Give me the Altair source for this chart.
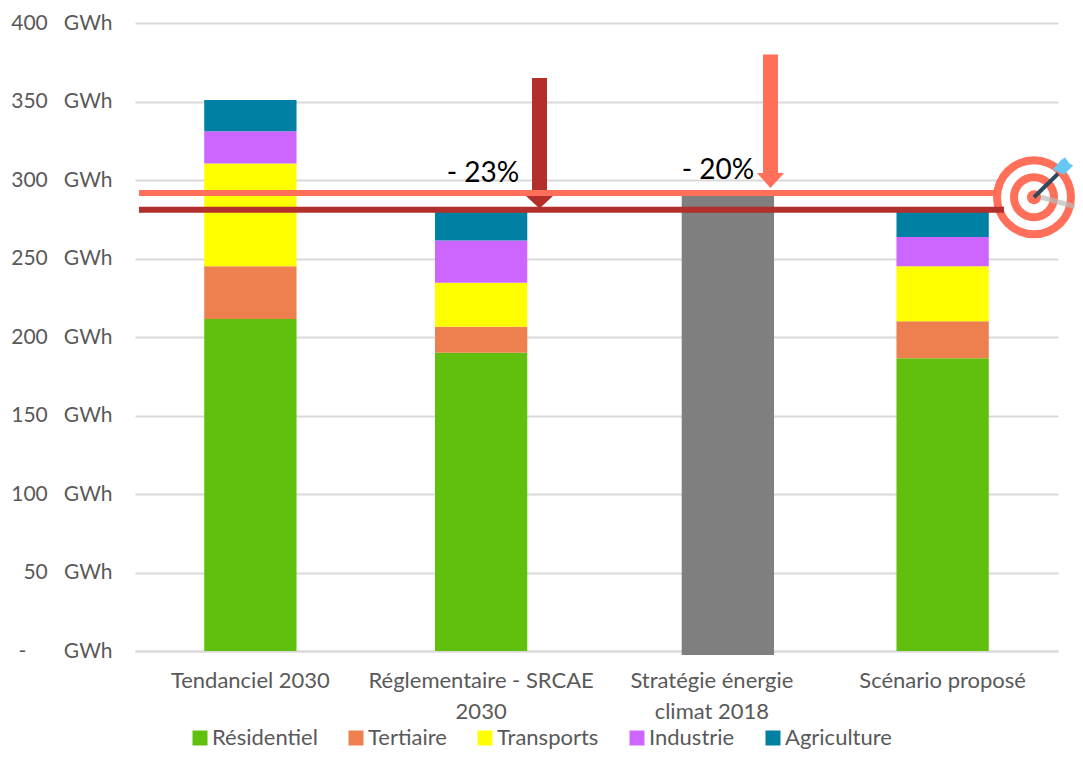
import altair as alt
import pandas as pd

FONT = "Lato"
categories = ["Tendanciel 2030", "Réglementaire - SRCAE|2030", "Stratégie énergie|climat 2018", "Scénario proposé"]
sectors = ["Résidentiel", "Tertiaire", "Transports", "Industrie", "Agriculture"]
sector_colors = ["#60C00D", "#EE8050", "#FFFF00", "#CC66FF", "#0080A2"]
tendanciel = [211.5, 33.5, 65.5, 20.5, 20]
reglementaire = [190, 16.5, 28, 27, 19.5]
scenario = [186.5, 23.5, 35, 18.7, 17.3]
strategie_top = 290
strategie_bottom = -2.5
ticks = [0, 50, 100, 150, 200, 250, 300, 350, 400]

rows = []
for cat, vals in [(categories[0], tendanciel), (categories[1], reglementaire), (categories[3], scenario)]:
    for i, (s, v) in enumerate(zip(sectors, vals)):
        rows.append({"cat": cat, "sector": s, "value": v, "ord": i})
stack_df = pd.DataFrame(rows)

ann_x = alt.X("x:Q", scale=alt.Scale(domain=[135, 1058]), axis=None)
ann_x2 = alt.X2("x2:Q")
y_scale = alt.Scale(domain=[0, 400], nice=False)
Y = lambda f: alt.Y(f, scale=y_scale, title=None)

band = alt.Scale(domain=categories, paddingInner=0.6, paddingOuter=0.3)
base_x = alt.X(
    "cat:N", sort=categories, title=None, scale=band,
    axis=alt.Axis(labelExpr="split(datum.label,'|')", labelAngle=0, labelFontSize=22, labelFont=FONT,
                  labelColor="#595959", labelLineHeight=31, labelPadding=19, ticks=False,
                  domainColor="#D9D9D9", domainWidth=2, labelLimit=300, grid=False),
)

stack = alt.Chart(stack_df).mark_bar(stroke=None).encode(
    x=base_x,
    y=alt.Y("value:Q", stack="zero", scale=y_scale, title=None,
            axis=alt.Axis(values=ticks, grid=True, gridColor="#D9D9D9", gridWidth=2, domain=False, ticks=False,
                          labelFontSize=21, labelFont=FONT, labelColor="#595959", labelPadding=23,
                          labelExpr="datum.value==0 ? '-\u00a0\u00a0\u00a0\u00a0\u00a0\u00a0\u00a0GWh' : datum.value+'\u00a0\u00a0\u00a0GWh'")),
    order=alt.Order("ord:Q"),
    color=alt.Color("sector:N", sort=sectors, scale=alt.Scale(domain=sectors, range=sector_colors),
                    legend=alt.Legend(title=None, orient="none", legendX=54, legendY=704, direction="horizontal",
                                      columns=5, gridAlign="none", symbolType="square", symbolSize=225,
                                      symbolStrokeWidth=0, labelFontSize=22, labelFont=FONT, labelColor="#595959",
                                      labelOffset=1, columnPadding=27, labelLimit=200)),
)

gray = alt.Chart(pd.DataFrame({"cat": [categories[2]], "top": [strategie_top], "bottom": [strategie_bottom]})).mark_bar(
    color="#7F7F7F", xOffset=16
).encode(x=alt.X("cat:N", sort=categories, title=None, scale=band),
         y=Y("top:Q"), y2="bottom:Q")
bars = alt.layer(stack, gray)


def shaft(x0, x1, v0, v1, color):
    d = pd.DataFrame({"x": [x0], "x2": [x1], "v": [v0], "v2": [v1]})
    return alt.Chart(d).mark_rect(color=color).encode(x=ann_x, x2=ann_x2, y=Y("v:Q"), y2="v2:Q")


def pts(x, v, size, color, shape="circle"):
    d = pd.DataFrame({"x": [x], "v": [v]})
    return alt.Chart(d).mark_point(filled=True, opacity=1, color=color, size=size, shape=shape, strokeWidth=0).encode(x=ann_x, y=Y("v:Q"))


def seg(x0, v0, x1, v1, color, w, op=1):
    d = pd.DataFrame({"x": [x0], "x2": [x1], "v": [v0], "v2": [v1]})
    return alt.Chart(d).mark_rule(color=color, strokeWidth=w, opacity=op).encode(x=ann_x, x2=ann_x2, y=Y("v:Q"), y2="v2:Q")


def label(x, v, t):
    d = pd.DataFrame({"x": [x], "v": [v], "t": [t]})
    return alt.Chart(d).mark_text(fontSize=28, font=FONT, color="#000000", align="center", baseline="middle").encode(x=ann_x, y=Y("v:Q"), text="t:N")


CORAL = "#FF6F59"
DARK = "#B22F2B"

layers = [
    bars,
    shaft(532, 547, 365, 290, DARK),
    pts(539.5, 286, 784, DARK, "M-1,-0.46L1,-0.46L0,0.46Z"),
    seg(139, 291.7, 1000, 291.7, CORAL, 6),
    shaft(763, 778, 380, 304.5, CORAL),
    pts(770.5, 299.7, 729, CORAL, "M-1,-0.55L1,-0.55L0,0.55Z"),
    label(483, 304, "- 23%"),
    label(718, 306, "- 20%"),
    pts(1034, 289, 6724, CORAL),
    pts(1034, 289, 4356, "#FFFFFF"),
    pts(1034, 289, 2304, CORAL),
    pts(1034, 289, 1024, "#FFFFFF"),
    pts(1034, 289, 196, CORAL),
    seg(1041, 289, 1075, 283, "#BBBBBB", 5, 0.7),
    seg(1034, 289, 1058, 304, "#2F4A5C", 4),
    pts(1063, 308, 420, "#66C8F5", "M-1,0.2L-0.2,-0.7L0.2,-1L0.6,-0.4L1,-0.2L0.1,0.7Z"),
    seg(139, 281, 1004, 281, DARK, 6),
]

chart = alt.layer(*layers).resolve_scale(x="independent").properties(
    width=923, height=628, padding={"left": 127, "top": 15, "right": 17, "bottom": 102},
    autosize=alt.AutoSizeParams(type="none"),
).configure_view(stroke=None)

chart.save("out.html", embed_options={"renderer": "svg", "actions": False})
